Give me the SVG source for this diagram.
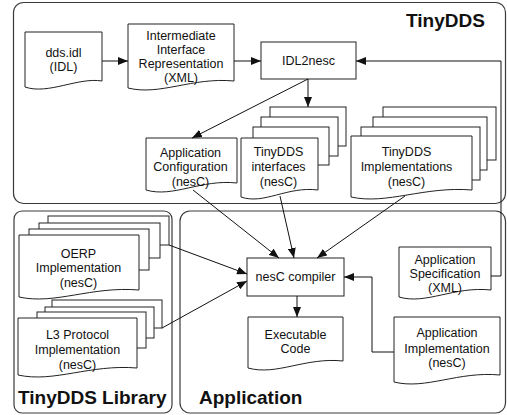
<svg xmlns="http://www.w3.org/2000/svg" width="507" height="415" viewBox="0 0 507 415">
  <style>
    .frame { fill: none; stroke: #3a3a3a; stroke-width: 1.2; }
    .doc { fill: #fff; stroke: #222; stroke-width: 1; }
    .box { fill: #fff; stroke: #222; stroke-width: 1; }
    .lbl { font-family: "Liberation Sans", Arial, sans-serif; font-size: 12.5px; fill: #111; text-anchor: middle; }
    .title { font-family: "Liberation Sans", Arial, sans-serif; font-size: 19px; font-weight: bold; fill: #111; }
    .edge { fill: none; stroke: #111; stroke-width: 1; marker-end: url(#arrow); }
  </style>
  <defs>
    <marker id="arrow" markerUnits="userSpaceOnUse" markerWidth="10" markerHeight="8" refX="10" refY="4" orient="auto">
      <path d="M0,0 L10,4 L0,8 z" fill="#111"/>
    </marker>
  </defs>

  <!-- containers -->
  <g id="tinydds">
    <rect class="frame" x="13.5" y="2.5" width="492" height="201" rx="10"/>
    <text class="title" x="406" y="27">TinyDDS</text>
  </g>
  <g id="tinydds-library">
    <rect class="frame" x="14" y="211" width="158" height="202" rx="8"/>
    <text class="title" x="18" y="404">TinyDDS Library</text>
  </g>
  <g id="application">
    <rect class="frame" x="180" y="211" width="325.5" height="202" rx="10"/>
    <text class="title" x="199" y="404">Application</text>
  </g>

  <!-- input documents -->
  <g id="dds-idl">
    <path class="doc" d="M25,32 H102 V81 C78,77 48,95 25,87 Z"/>
    <text class="lbl" x="63.5" y="57">dds.idl</text>
    <text class="lbl" x="63.5" y="71">(IDL)</text>
  </g>
  <g id="intermediate">
    <path class="doc" d="M128,24 H234 V81 C192,77 160,96 128,88 Z"/>
    <text class="lbl" x="181" y="40">Intermediate</text>
    <text class="lbl" x="181" y="54">Interface</text>
    <text class="lbl" x="181" y="68">Representation</text>
    <text class="lbl" x="181" y="82">(XML)</text>
  </g>
  <g id="idl2nesc">
    <rect class="box" x="261" y="42" width="95" height="37"/>
    <text class="lbl" x="308.5" y="65">IDL2nesc</text>
  </g>

  <!-- generated documents -->
  <g id="app-config">
    <path class="doc" d="M146,138 H237 V183 C201,179 173,198 146,190 Z"/>
    <text class="lbl" x="190.5" y="157">Application</text>
    <text class="lbl" x="190.5" y="171">Configuration</text>
    <text class="lbl" x="190.5" y="186">(nesC)</text>
  </g>
  <g id="tinydds-interfaces">
    <rect class="doc" x="270" y="107" width="76" height="39"/>
    <rect class="doc" x="261" y="117" width="77" height="39"/>
    <rect class="doc" x="253" y="127" width="76" height="38"/>
    <path class="doc" d="M241,138 H318 V190 C287,186 264,205 241,197 Z"/>
    <text class="lbl" x="278.5" y="156">TinyDDS</text>
    <text class="lbl" x="278.5" y="171">interfaces</text>
    <text class="lbl" x="278.5" y="186">(nesC)</text>
  </g>
  <g id="tinydds-implementations">
    <rect class="doc" x="383" y="107" width="113" height="53"/>
    <rect class="doc" x="373" y="117" width="114" height="53"/>
    <rect class="doc" x="361" y="127" width="119" height="53"/>
    <path class="doc" d="M351,136 H472 V190 C424,186 387,205 351,197 Z"/>
    <text class="lbl" x="406.5" y="156">TinyDDS</text>
    <text class="lbl" x="406.5" y="171">Implementations</text>
    <text class="lbl" x="406.5" y="186">(nesC)</text>
  </g>

  <!-- library documents -->
  <g id="l3-protocol">
    <rect class="doc" x="52" y="300" width="110" height="28"/>
    <rect class="doc" x="45" y="307" width="109" height="31"/>
    <rect class="doc" x="37" y="312" width="109" height="36"/>
    <path class="doc" d="M18,318 H137 V368 C90,364 54,383 18,375 Z"/>
    <text class="lbl" x="77.5" y="339">L3 Protocol</text>
    <text class="lbl" x="77.5" y="354">Implementation</text>
    <text class="lbl" x="77.5" y="369">(nesC)</text>
  </g>
  <g id="oerp">
    <rect class="doc" x="48" y="216" width="121" height="29"/>
    <rect class="doc" x="39" y="223" width="121" height="35"/>
    <rect class="doc" x="29" y="229" width="120" height="41"/>
    <path class="doc" d="M19,235 H139 V290 C91,286 55,305 19,297 Z"/>
    <text class="lbl" x="78.5" y="258">OERP</text>
    <text class="lbl" x="78.5" y="272">Implementation</text>
    <text class="lbl" x="78.5" y="287">(nesC)</text>
  </g>

  <!-- application documents -->
  <g id="nesc-compiler">
    <rect class="box" x="247" y="258" width="97" height="38"/>
    <text class="lbl" x="295.5" y="281">nesC compiler</text>
  </g>
  <g id="executable">
    <path class="doc" d="M248,317 H343 V361 C305,357 277,376 248,368 Z"/>
    <text class="lbl" x="295.5" y="339">Executable</text>
    <text class="lbl" x="295.5" y="353">Code</text>
  </g>
  <g id="app-spec">
    <path class="doc" d="M399,247 H491 V290 C454,286 426,305 399,297 Z"/>
    <text class="lbl" x="445" y="264">Application</text>
    <text class="lbl" x="445" y="278">Specification</text>
    <text class="lbl" x="445" y="292">(XML)</text>
  </g>
  <g id="app-impl">
    <path class="doc" d="M394,317 H500 V375 C458,371 426,390 394,382 Z"/>
    <text class="lbl" x="447" y="337">Application</text>
    <text class="lbl" x="447" y="353">Implementation</text>
    <text class="lbl" x="447" y="367">(nesC)</text>
  </g>

  <!-- connectors -->
  <g id="connectors">
    <path class="edge" d="M102,61 H128"/>
    <path class="edge" d="M234,61 H261"/>
    <path class="edge" d="M308,79 L192,138"/>
    <path class="edge" d="M308,79 V107"/>
    <path class="edge" d="M491,276 H501 V61 H356"/>
    <path class="edge" d="M193,190 L279,258"/>
    <path class="edge" d="M280,196 L294,258"/>
    <path class="edge" d="M405,196 L317,258"/>
    <path class="edge" d="M169,245 L247,274"/>
    <path class="edge" d="M162,328 L247,281"/>
    <path class="edge" d="M297,296 V317"/>
    <path class="edge" d="M394,352 H372 V277 H344"/>
  </g>
</svg>
